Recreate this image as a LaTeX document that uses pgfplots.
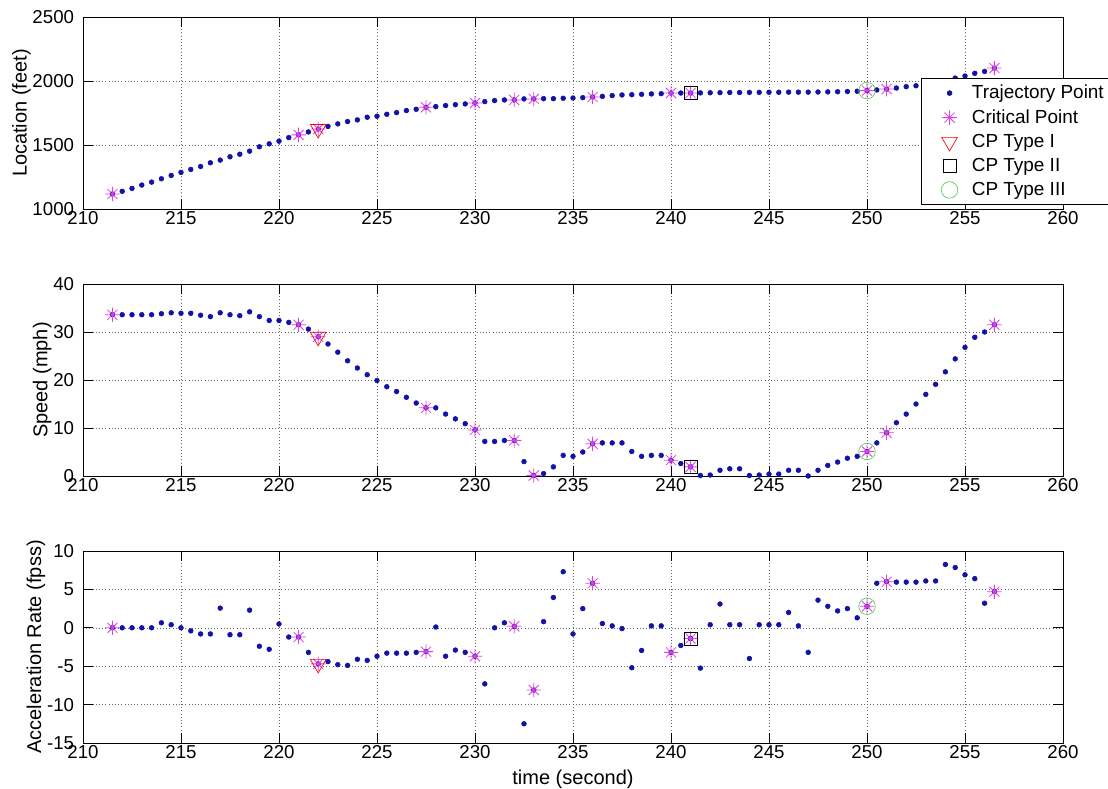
\documentclass[border=0pt]{standalone}
\usepackage{pgfplots}
\pgfplotsset{compat=1.18}
\usepackage{pgfplotstable}
\usepackage{fontspec}
\setmainfont{Liberation Sans}

\definecolor{dotblue}{rgb}{0.07,0.07,0.65}
\definecolor{cpmag}{rgb}{0.87,0.25,0.9}
\definecolor{cpgreen}{rgb}{0.35,0.8,0.35}

\pgfdeclareplotmark{mstar}{%
  \pgfpathmoveto{\pgfqpoint{-\pgfplotmarksize}{0pt}}\pgfpathlineto{\pgfqpoint{\pgfplotmarksize}{0pt}}%
  \pgfpathmoveto{\pgfqpoint{0pt}{-\pgfplotmarksize}}\pgfpathlineto{\pgfqpoint{0pt}{\pgfplotmarksize}}%
  \pgfpathmoveto{\pgfqpoint{-.7\pgfplotmarksize}{-.7\pgfplotmarksize}}\pgfpathlineto{\pgfqpoint{.7\pgfplotmarksize}{.7\pgfplotmarksize}}%
  \pgfpathmoveto{\pgfqpoint{-.7\pgfplotmarksize}{.7\pgfplotmarksize}}\pgfpathlineto{\pgfqpoint{.7\pgfplotmarksize}{-.7\pgfplotmarksize}}%
  \pgfusepathqstroke}

\pgfplotstableread{
t loc spd acc
211.5 1117 33.6 0
212 1138 33.6 0
212.5 1161 33.6 0
213 1187 33.6 0
213.5 1210 33.6 0
214 1236 33.8 0.65
214.5 1262 34.0 0.4
215 1286 33.9 0
215.5 1309 33.9 -0.4
216 1332 33.5 -0.8
216.5 1361 33.2 -0.8
217 1382 34.0 2.56
217.5 1408 33.6 -0.9
218 1428 33.4 -0.9
218.5 1452 34.2 2.3
219 1486 33.2 -2.4
219.5 1509 32.4 -2.8
220 1530 32.4 0.5
220.5 1558 32.0 -1.2
221 1579 31.5 -1.2
221.5 1602 30.6 -3.2
222 1625 29.0 -4.7
222.5 1645 27.5 -4.4
223 1665 25.8 -4.8
223.5 1683 24.0 -4.9
224 1696 22.5 -4.1
224.5 1717 21.1 -4.25
225 1725 19.9 -3.7
225.5 1740 18.6 -3.3
226 1753 17.6 -3.3
226.5 1769 16.4 -3.3
227 1779 15.2 -3.2
227.5 1795 14.2 -3.1
228 1800 14.2 0.1
228.5 1808 12.9 -3.7
229 1815 11.9 -2.9
229.5 1821 10.9 -3.2
230 1828 9.6 -3.7
230.5 1839 7.2 -7.3
231 1847 7.2 0
231.5 1852 7.4 0.65
232 1852 7.4 0.2
232.5 1860 3.0 -12.5
233 1860 0.1 -8.1
233.5 1862 0.5 0.8
234 1862 1.9 3.95
234.5 1865 4.3 7.3
235 1867 4.1 -0.8
235.5 1870 5.0 2.5
236 1875 6.7 5.8
236.5 1880 6.9 0.55
237 1886 6.9 0.25
237.5 1891 6.9 -0.1
238 1893 5.1 -5.2
238.5 1896 4.1 -2.95
239 1899 4.3 0.25
239.5 1901 4.3 0.25
240 1906 3.3 -3.2
240.5 1906 2.6 -2.3
241 1906 1.9 -1.4
241.5 1907 0.1 -5.25
242 1908 0.2 0.4
242.5 1909 1.2 3.1
243 1910 1.5 0.4
243.5 1910 1.5 0.4
244 1911 0.1 -4.0
244.5 1911 0.2 0.4
245 1912 0.4 0.4
245.5 1912 0.4 0.4
246 1913 1.2 2.0
246.5 1913 1.2 0.25
247 1913 0.0 -3.2
247.5 1914 1.2 3.6
248 1915 2.2 2.8
248.5 1916 2.9 2.2
249 1918 3.7 2.5
249.5 1920 4.1 1.3
250 1925 5.1 2.8
250.5 1930 6.9 5.8
251 1937 9.0 6.0
251.5 1945 11.1 5.95
252 1956 12.9 5.95
252.5 1963 15.0 5.95
253 1976 17.0 6.1
253.5 1987 19.1 6.1
254 2000 21.7 8.25
254.5 2023 24.4 7.85
255 2039 26.8 6.9
255.5 2060 28.9 6.4
256 2075 30.0 3.2
256.5 2101 31.5 4.7
}\traj

\pgfplotstableread{
t loc spd acc
211.5 1117 33.6 0
221 1579 31.5 -1.2
222 1625 29.0 -4.7
227.5 1795 14.2 -3.1
230 1828 9.6 -3.7
232 1852 7.4 0.2
233 1860 0.1 -8.1
236 1875 6.7 5.8
240 1906 3.3 -3.2
241 1906 1.9 -1.4
250 1925 5.1 2.8
251 1937 9.0 6.0
256.5 2101 31.5 4.7
}\crit

\pgfplotstableread{
t loc spd acc
222 1625 29.0 -4.7
}\typeone
\pgfplotstableread{
t loc spd acc
241 1906 1.9 -1.4
}\typetwo
\pgfplotstableread{
t loc spd acc
250 1925 5.1 2.8
}\typethree

\pgfplotsset{
  mpanel/.style={
    width=735pt, height=144pt, scale only axis,
    xmin=210, xmax=260, xtick={210,215,...,260},
    grid=major, major grid style={dotted, black!60},
    tick align=inside, major tick length=7.3pt,
    every tick/.style={black, line width=0.5pt},
    axis line style={line width=0.6pt},
    tick label style={font=\fontsize{14}{16}\selectfont},
    label style={font=\fontsize{15}{17}\selectfont},
    every axis y label/.append style={at={(ticklabel cs:0.5,-5.5pt)}},
    /pgf/number format/assume math mode=true,
    /pgf/number format/1000 sep={},
    xticklabel style={yshift=2pt},
    yticklabel style={xshift=-3.2pt},
    clip=false,
  },
  lgimg/.style={legend image code/.code={%
      \path (0pt,0pt) (26.5pt,0pt);
      \draw[##1,mark repeat=2,mark phase=2] plot coordinates {(0pt,0pt)(12pt,0pt)(26.5pt,0pt)};}},
  trj/.style={only marks, mark=*, mark size=1.8pt, color=dotblue, mark options={draw=dotblue, fill=dotblue}},
  crp/.style={only marks, mark=mstar, mark size=5.4pt, color=cpmag, mark options={line width=0.6pt}},
  t1/.style={only marks, mark=triangle, mark size=6.8pt, color=red, mark options={rotate=180, line width=0.5pt, fill=none}},
  t2/.style={only marks, mark=square, mark size=4.9pt, color=black, mark options={line width=0.5pt, fill=none}},
  t3/.style={only marks, mark=o, mark size=6.2pt, color=cpgreen, mark options={line width=0.5pt, fill=none}},
}

\begin{document}
\begin{tikzpicture}
\useasboundingbox (0,0) rectangle (831pt,591.75pt);

% Panel 1: Location
\begin{axis}[mpanel, at={(62.25pt,435pt)}, anchor=south west,
  ymin=1000, ymax=2500, ytick={1000,1500,2000,2500},
  ylabel={Location (feet)},
  legend style={at={(0.855,0.681)}, anchor=north west, draw=black, fill=white,
    font=\fontsize{14.2}{16}\selectfont, cells={anchor=west}, row sep=2.6pt,
    inner xsep=9pt, inner ysep=3pt, line width=0.5pt},
]
\addplot[trj, lgimg] table[x=t, y=loc] {\traj};
\addlegendentry{Trajectory Point}
\addplot[crp, lgimg] table[x=t, y=loc] {\crit};
\addlegendentry{Critical Point}
\addplot[t1, lgimg] table[x=t, y=loc] {\typeone};
\addlegendentry{CP Type I}
\addplot[t2, lgimg] table[x=t, y=loc] {\typetwo};
\addlegendentry{CP Type II}
\addplot[t3, lgimg] table[x=t, y=loc] {\typethree};
\addlegendentry{CP Type III}
\end{axis}

% Panel 2: Speed
\begin{axis}[mpanel, at={(62.25pt,234.75pt)}, anchor=south west,
  ymin=0, ymax=40, ytick={0,10,20,30,40},
  ylabel={Speed (mph)},
]
\addplot[trj] table[x=t, y=spd] {\traj};
\addplot[crp] table[x=t, y=spd] {\crit};
\addplot[t1] table[x=t, y=spd] {\typeone};
\addplot[t2] table[x=t, y=spd] {\typetwo};
\addplot[t3] table[x=t, y=spd] {\typethree};
\end{axis}

% Panel 3: Acceleration
\begin{axis}[mpanel, at={(62.25pt,34.5pt)}, anchor=south west,
  ymin=-15, ymax=10, ytick={-15,-10,-5,0,5,10},
  ylabel={Acceleration Rate (fpss)},
  xlabel={time (second)},
  xlabel style={yshift=-2pt},
]
\addplot[trj] table[x=t, y=acc] {\traj};
\addplot[crp] table[x=t, y=acc] {\crit};
\addplot[t1] table[x=t, y=acc] {\typeone};
\addplot[t2] table[x=t, y=acc] {\typetwo};
\addplot[t3] table[x=t, y=acc] {\typethree};
\end{axis}
\end{tikzpicture}
\end{document}
